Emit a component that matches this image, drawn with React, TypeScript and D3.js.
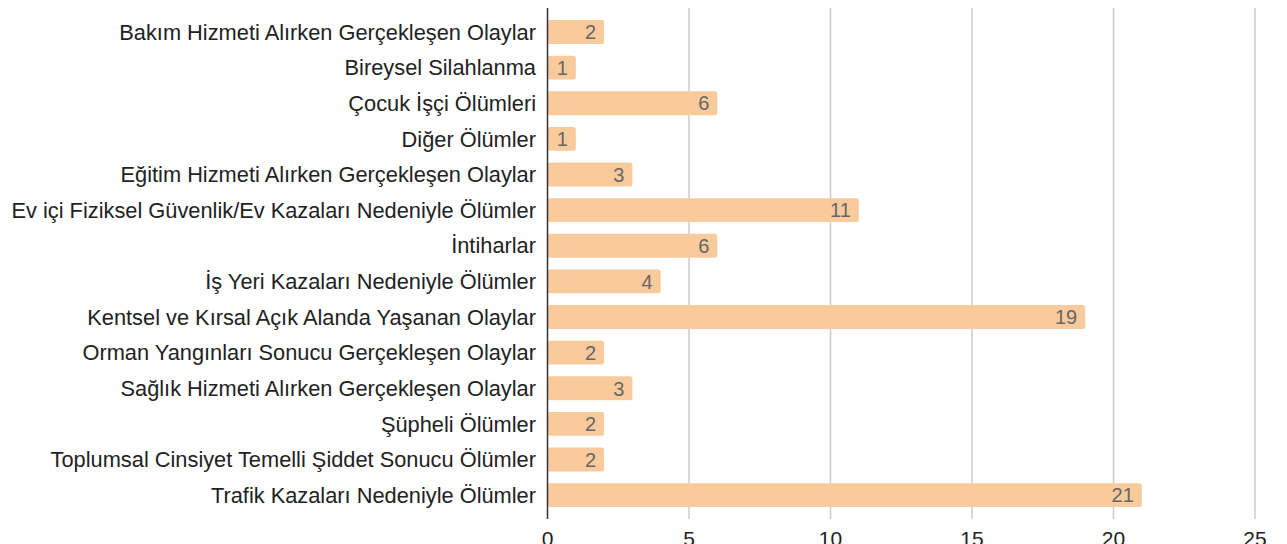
import { useEffect, useRef } from "react";
import * as d3 from "d3";

const categories = [
  "Bakım Hizmeti Alırken Gerçekleşen Olaylar",
  "Bireysel Silahlanma",
  "Çocuk İşçi Ölümleri",
  "Diğer Ölümler",
  "Eğitim Hizmeti Alırken Gerçekleşen Olaylar",
  "Ev içi Fiziksel Güvenlik/Ev Kazaları Nedeniyle Ölümler",
  "İntiharlar",
  "İş Yeri Kazaları Nedeniyle Ölümler",
  "Kentsel ve Kırsal Açık Alanda Yaşanan Olaylar",
  "Orman Yangınları Sonucu Gerçekleşen Olaylar",
  "Sağlık Hizmeti Alırken Gerçekleşen Olaylar",
  "Şüpheli Ölümler",
  "Toplumsal Cinsiyet Temelli Şiddet Sonucu Ölümler",
  "Trafik Kazaları Nedeniyle Ölümler",
];
const values = [2, 1, 6, 1, 3, 11, 6, 4, 19, 2, 3, 2, 2, 21];
const ticks = [0, 5, 10, 15, 20, 25];

const W = 1287;
const H = 544;
const barColor = "#f9cb9c";
const font = "Liberation Sans, Arial, sans-serif";

export default function App() {
  const ref = useRef<SVGSVGElement>(null);

  useEffect(() => {
    const svg = d3.select(ref.current);
    svg.selectAll("*").remove();

    const x = d3.scaleLinear().domain([0, 25]).range([547.5, 1255]);
    const y = d3
      .scaleBand()
      .domain(categories)
      .range([14.2, 513])
      .paddingInner(0.33)
      .paddingOuter(0.165);

    // gridlines
    svg
      .append("g")
      .selectAll("line")
      .data(ticks.slice(1))
      .enter()
      .append("line")
      .attr("x1", (d) => x(d))
      .attr("x2", (d) => x(d))
      .attr("y1", 8)
      .attr("y2", 519)
      .attr("stroke", "#cccccc")
      .attr("stroke-width", 1.5);

    // tick labels (cut by the bottom edge, as in the reference)
    svg
      .append("g")
      .selectAll("text")
      .data(ticks)
      .enter()
      .append("text")
      .attr("x", (d) => x(d))
      .attr("y", 546)
      .attr("text-anchor", "middle")
      .style("font-family", font)
      .style("font-size", "21px")
      .attr("fill", "#222")
      .text((d) => d);

    // bars
    svg
      .append("g")
      .selectAll("rect")
      .data(values)
      .enter()
      .append("rect")
      .attr("x", x(0))
      .attr("y", (d, i) => y(categories[i])!)
      .attr("width", (d) => x(d) - x(0))
      .attr("height", y.bandwidth())
      .attr("rx", 2.5)
      .attr("fill", barColor);

    // axis line
    svg
      .append("line")
      .attr("x1", x(0))
      .attr("x2", x(0))
      .attr("y1", 8)
      .attr("y2", 519)
      .attr("stroke", "#333")
      .attr("stroke-width", 1.5);

    // category labels
    svg
      .append("g")
      .selectAll("text")
      .data(categories)
      .enter()
      .append("text")
      .attr("x", 536)
      .attr("y", (d) => y(d)! + y.bandwidth() / 2)
      .attr("dy", "0.35em")
      .attr("text-anchor", "end")
      .style("font-family", font)
      .style("font-size", "21.8px")
      .attr("fill", "#222")
      .text((d) => d);

    // value labels
    svg
      .append("g")
      .selectAll("text")
      .data(values)
      .enter()
      .append("text")
      .attr("x", (d) => x(d) - 8)
      .attr("y", (d, i) => y(categories[i])! + y.bandwidth() / 2)
      .attr("dy", "0.36em")
      .attr("text-anchor", "end")
      .style("font-family", font)
      .style("font-size", "20px")
      .style("paint-order", "stroke")
      .attr("stroke", barColor)
      .attr("stroke-width", 3)
      .attr("fill", "#666")
      .text((d) => d);
  }, []);

  return (
    <svg
      ref={ref}
      width={W}
      height={H}
      style={{ position: "absolute", left: 0, top: 0, background: "#fff" }}
    />
  );
}
